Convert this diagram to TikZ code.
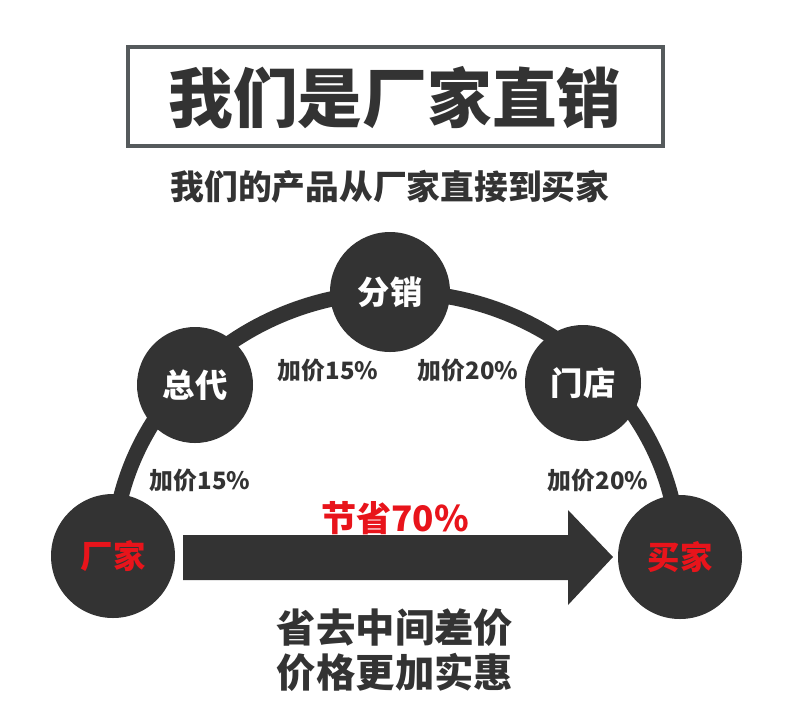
\documentclass[tikz,border=0pt]{standalone}
\usepackage{fontspec}
\setmainfont{Noto Sans CJK SC}
\usetikzlibrary{positioning}
\definecolor{dark}{HTML}{333333}
\definecolor{frame}{HTML}{555A5C}
\definecolor{hot}{HTML}{E8141B}
\begin{document}
\begin{tikzpicture}[
        x=0.025cm, y=-0.025cm,
        font=\bfseries,
        stop/.style={circle, fill=dark, text=white, minimum size=#1, inner sep=0pt, font=\bfseries\fontsize{23}{23}\selectfont},
        price/.style={text=dark, font=\bfseries\fontsize{17}{17}\selectfont},
        big/.style={text=dark, font=\bfseries\fontsize{28}{32}\selectfont}
    ]
    \useasboundingbox (0,0) rectangle (790,719);

    % --- title ---
    \draw[frame, line width=3.5pt] (128,47) rectangle (663,146);
    \node[text=dark, font=\bfseries\fontsize{46}{46}\selectfont] (title) at (395,98) {我们是厂家直销};
    \node[text=dark, font=\bfseries\fontsize{24}{24}\selectfont] (sub) at (390,187) {我们的产品从厂家直接到买家};

    % --- arc ---
    \draw[dark, line width=11pt] (113,560) arc[start angle=180, end angle=360, x radius=283, y radius=268];

    % --- stops ---
    \node[stop=124*0.025cm, text=hot] (maker) at (113,556) {厂家};
    \node[stop=116*0.025cm] (agent) at (195,385) {总代};
    \node[stop=120*0.025cm] (dist) at (390,292) {分销};
    \node[stop=116*0.025cm] (shop) at (583,383) {门店};
    \node[stop=124*0.025cm, text=hot] (buyer) at (680,557) {买家};

    % --- markups ---
    \node[price] (p1) at (200,480) {加价15\%};
    \node[price] (p2) at (328,370) {加价15\%};
    \node[price] (p3) at (468,370) {加价20\%};
    \node[price] (p4) at (598,480) {加价20\%};

    % --- direct arrow ---
    \fill[dark] (183,535) -- (568,535) -- (568,510) -- (613,557) -- (568,605) -- (568,580) -- (183,580) -- cycle;
    \node[text=hot, font=\bfseries\fontsize{25}{25}\selectfont] (save) at (395,518) {节省70\%};

    \node[big, align=center] (note) at (395,650) {省去中间差价\\价格更加实惠};
\end{tikzpicture}
\end{document}
